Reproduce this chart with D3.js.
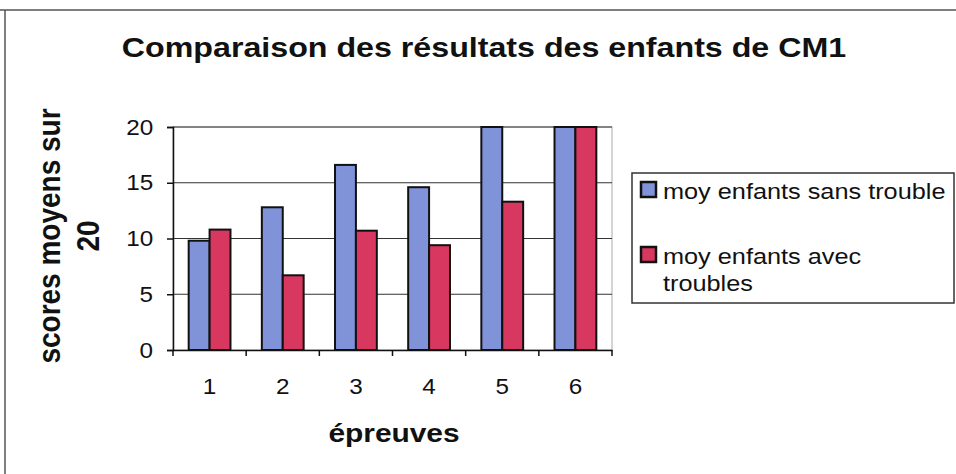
<!DOCTYPE html>
<html>
<head>
<meta charset="utf-8">
<script src="https://cdn.jsdelivr.net/npm/d3@7"></script>
<style>
  body { margin: 0; background: #fff; }
  svg { font-family: "Liberation Sans", Arial, sans-serif; }
</style>
</head>
<body>
<div id="chart"></div>
<script>
// data
let epreuves = ["1", "2", "3", "4", "5", "6"]
let sansTrouble = [9.8, 12.8, 16.6, 14.6, 20, 20]
let avecTroubles = [10.8, 6.7, 10.7, 9.4, 13.3, 20]
let seriesNames = ["moy enfants sans trouble", "moy enfants avec troubles"]
let yTicks = [0, 5, 10, 15, 20]

let width = 956, height = 474
let plot = {left: 173, right: 612, top: 127, bottom: 350}
let colors = ["#8092d8", "#d8375f"]
let stretch = 1.15   // the original text is a bit wide, stretch it horizontally

let svg = d3.select("#chart")
    .append("svg")
        .attr("width", width)
        .attr("height", height)

// outer frame (top + left edges visible)
svg.append("line").attr("x1", 0).attr("x2", width).attr("y1", 10).attr("y2", 10)
    .attr("stroke", "#555").attr("stroke-width", 1.5)
svg.append("line").attr("x1", 5).attr("x2", 5).attr("y1", 10).attr("y2", height)
    .attr("stroke", "#555").attr("stroke-width", 1.5)

let x = d3.scaleBand().domain(epreuves).range([plot.left, plot.right])
let gap = x.bandwidth() * 0.75 / 3.5
let x1 = d3.scaleBand().domain([0, 1]).range([gap, x.bandwidth() - gap])
let y = d3.scaleLinear().domain([0, 20]).range([plot.bottom, plot.top])

// plot area border (light)
svg.append("rect")
    .attr("x", plot.left).attr("y", plot.top)
    .attr("width", plot.right - plot.left).attr("height", plot.bottom - plot.top)
    .attr("fill", "#fff").attr("stroke", "#aaa").attr("stroke-width", 1)

// gridlines
svg.append("g").selectAll("line")
    .data(yTicks.filter(d => d > 0))
    .enter().append("line")
    .attr("x1", plot.left).attr("x2", plot.right)
    .attr("y1", d => y(d)).attr("y2", d => y(d))
    .attr("stroke", "#333").attr("stroke-width", 1)

// bars
let data = epreuves.map((e, i) => ({key: e, values: [sansTrouble[i], avecTroubles[i]]}))
let groups = svg.append("g").selectAll("g")
    .data(data)
    .enter().append("g")
    .attr("transform", d => `translate(${x(d.key)},0)`)

groups.selectAll("rect")
    .data(d => d.values.map((v, s) => ({s: s, v: v})))
    .enter().append("rect")
    .attr("x", d => x1(d.s))
    .attr("width", x1.bandwidth())
    .attr("y", d => y(d.v))
    .attr("height", d => y(0) - y(d.v))
    .attr("fill", d => colors[d.s])
    .attr("stroke", "#111")
    .attr("stroke-width", 2)

// y axis
let yAxis = svg.append("g")
    .attr("transform", `translate(${plot.left},0)`)
    .call(d3.axisLeft(y).tickValues(yTicks).tickSize(6).tickPadding(12))
yAxis.select(".domain").attr("stroke", "#111").attr("stroke-width", 1.5)
yAxis.selectAll(".tick line").attr("stroke", "#111").attr("stroke-width", 1.5)
yAxis.selectAll(".tick text").style("font-size", "22px").attr("fill", "#111")
    .attr("transform", `scale(${stretch * 0.96},1)`)

// x axis: ticks sit at category boundaries
let xAxis = svg.append("g")
    .attr("transform", `translate(0,${plot.bottom})`)
    .call(d3.axisBottom(x).tickSize(0).tickPadding(28))
xAxis.select(".domain").attr("stroke", "#111").attr("stroke-width", 1.5)
xAxis.selectAll(".tick text").style("font-size", "22px").attr("fill", "#111")
    .attr("transform", `scale(${stretch * 0.96},1)`)
xAxis.selectAll("line.bound")
    .data(epreuves.concat(["end"]))
    .enter().append("line")
    .attr("class", "bound")
    .attr("x1", (d, i) => plot.left + i * x.step())
    .attr("x2", (d, i) => plot.left + i * x.step())
    .attr("y1", 0).attr("y2", 6)
    .attr("stroke", "#111").attr("stroke-width", 1.5)

// helper: text placed at (px,py), stretched horizontally
function label(px, py, txt, size, bold, anchor) {
    return svg.append("text")
        .attr("transform", `translate(${px},${py}) scale(${stretch},1)`)
        .style("text-anchor", anchor || "start")
        .style("font-size", size + "px")
        .style("font-weight", bold ? "bold" : "normal")
        .attr("fill", "#111")
        .text(txt)
}

// titles
label(484, 57, "Comparaison des résultats des enfants de CM1", 28, true, "middle")
label(394, 442, "épreuves", 26, true, "middle")

// y title, two lines
let yTitle = svg.append("text")
    .attr("transform", `translate(60,236) scale(${stretch},1) rotate(-90)`)
    .style("text-anchor", "middle")
    .style("font-size", "28px")
    .style("font-weight", "bold")
    .attr("fill", "#111")
yTitle.append("tspan").attr("x", 0).attr("y", 0).text("scores moyens sur")
yTitle.append("tspan").attr("x", 0).attr("y", 34).text("20")

// legend
let leg = svg.append("g").attr("class", "legend")
leg.append("rect")
    .attr("x", 632).attr("y", 173).attr("width", 322).attr("height", 130)
    .attr("fill", "#fff").attr("stroke", "#333").attr("stroke-width", 1.5)

let legRows = [{lines: ["moy enfants sans trouble"], y: 182},
               {lines: ["moy enfants avec", "troubles"], y: 247}]
legRows.forEach(function(r, i) {
    leg.append("rect")
        .attr("x", 641).attr("y", r.y).attr("width", 15).attr("height", 15)
        .attr("fill", colors[i]).attr("stroke", "#111").attr("stroke-width", 2.5)
    r.lines.forEach(function(t, j) {
        label(663, r.y + 17 + j * 27, t, 22, false, "start")
    })
})
</script>
</body>
</html>
